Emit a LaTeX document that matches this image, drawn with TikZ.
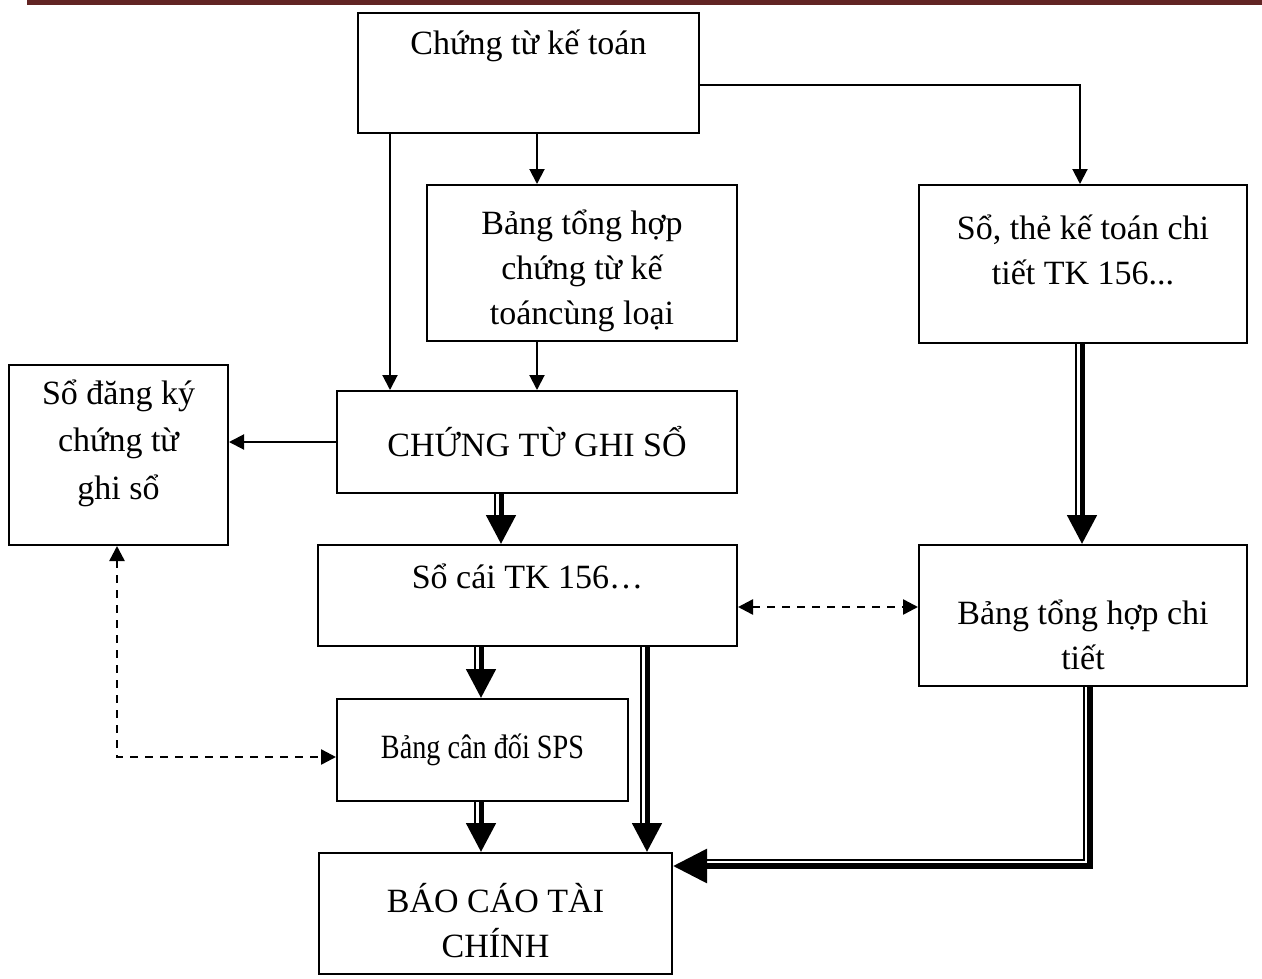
\documentclass[tikz,border=0pt]{standalone}
\usepackage{fontspec}
\setmainfont{Liberation Serif}
\usepackage{graphicx}
\usepackage{tikz}
\usetikzlibrary{arrows.meta}
\definecolor{barred}{HTML}{622423}
\newcommand{\txtup}[1]{\rule[-#1]{0pt}{#1}}
\newcommand{\txtdown}[1]{\rule{0pt}{#1}}
\tikzset{box/.style = {draw, line width=2pt, inner sep=0pt, anchor=north west,
                       align=center, font=\fontsize{34}{45}\selectfont}}
\tikzset{arr/.style = {line width=2pt, -{Triangle[width=15pt,length=15pt]}}}
\tikzset{dblarr/.style = {line width=5pt, -{Triangle[width=29pt,length=29pt]},
                          preaction={draw, -, line width=2pt, shorten >=27pt,
                                     transform canvas={xshift=-6pt}}}}
\tikzset{dblcorner/.style = {line width=6pt, -{Triangle[width=33pt,length=34pt]},
                             preaction={draw, -, line width=2pt, shorten >=32pt, shorten <=6pt,
                                        transform canvas={xshift=-6pt, yshift=6pt}}}}
\tikzset{dashedarr/.style = {line width=2.5pt, dash pattern=on 8pt off 7pt,
                             {Triangle[width=15pt,length=15pt]}-{Triangle[width=15pt,length=15pt]}}}

\begin{document}
\begin{tikzpicture}[x=1pt, y=-1pt]
    \useasboundingbox (0, 0) rectangle (1262, 978);
    \fill [barred] (27, 0) rectangle (1262, 5);

    % boxes
    \node [box, minimum width=341, minimum height=120] (chungtu) at (357, 12) {Chứng từ kế toán\txtup{62pt}};
    \node [box, minimum width=310, minimum height=156] (tonghop) at (426, 184) {\txtdown{41pt}Bảng tổng hợp\\chứng từ kế\\toáncùng loại};
    \node [box, minimum width=328, minimum height=158] (sothe) at (918, 184) {Sổ, thẻ kế toán chi\\tiết TK 156...\txtup{28pt}};
    \node [box, minimum width=219, minimum height=180] (dangky) at (8, 364) {Sổ đăng ký\\[2pt]chứng từ\\[3pt]ghi sổ\txtup{31pt}};
    \node [box, minimum width=400, minimum height=102] (ctgs) at (336, 390) {CHỨNG TỪ GHI SỔ};
    \node [box, minimum width=419, minimum height=101] (socai) at (317, 544) {Sổ cái TK 156…\txtup{38pt}};
    \node [box, minimum width=328, minimum height=141] (chitiet) at (918, 544) {\txtdown{63pt}Bảng tổng hợp chi\\tiết};
    \node [box, minimum width=291, minimum height=102] (candoi) at (336, 698) {\scalebox{0.83}[1]{Bảng cân đối SPS}};
    \node [box, minimum width=353, minimum height=121] (baocao) at (318, 852) {\txtdown{43pt}BÁO CÁO TÀI\\CHÍNH};

    % single arrows
    \draw [arr] ([xshift=33]chungtu.south west) -- ([xshift=54]ctgs.north west);
    \draw [arr] ([xshift=180]chungtu.south west) -- ([xshift=111]tonghop.north west);
    \draw [arr] ([xshift=111]tonghop.south west) -- ([xshift=201]ctgs.north west);
    \draw [arr] ([yshift=-73]chungtu.north east) -| ([xshift=162]sothe.north west);
    \draw [arr] (ctgs.west) -- (ctgs.west -| dangky.east);

    % double arrows
    \draw [dblarr] ([xshift=165]ctgs.south west) -- ([xshift=184]socai.north west);
    \draw [dblarr] ([xshift=164]socai.south west) -- ([xshift=145]candoi.north west);
    \draw [dblarr] ([xshift=330]socai.south west) -- ([xshift=329]baocao.north west);
    \draw [dblarr] ([xshift=145]candoi.south west) -- ([xshift=163]baocao.north west);
    \draw [dblarr] ([xshift=164]sothe.south west) -- ([xshift=164]chitiet.north west);
    \draw [dblcorner] ([xshift=172]chitiet.south west) |- ([yshift=-14]baocao.north east);

    % dashed arrows
    \draw [dashedarr] ([yshift=-63]socai.north east) -- ([yshift=-63]chitiet.north west);
    \draw [dashedarr] ([xshift=109]dangky.south west) |- ([yshift=-59]candoi.north west);
  \end{tikzpicture}
\end{document}
